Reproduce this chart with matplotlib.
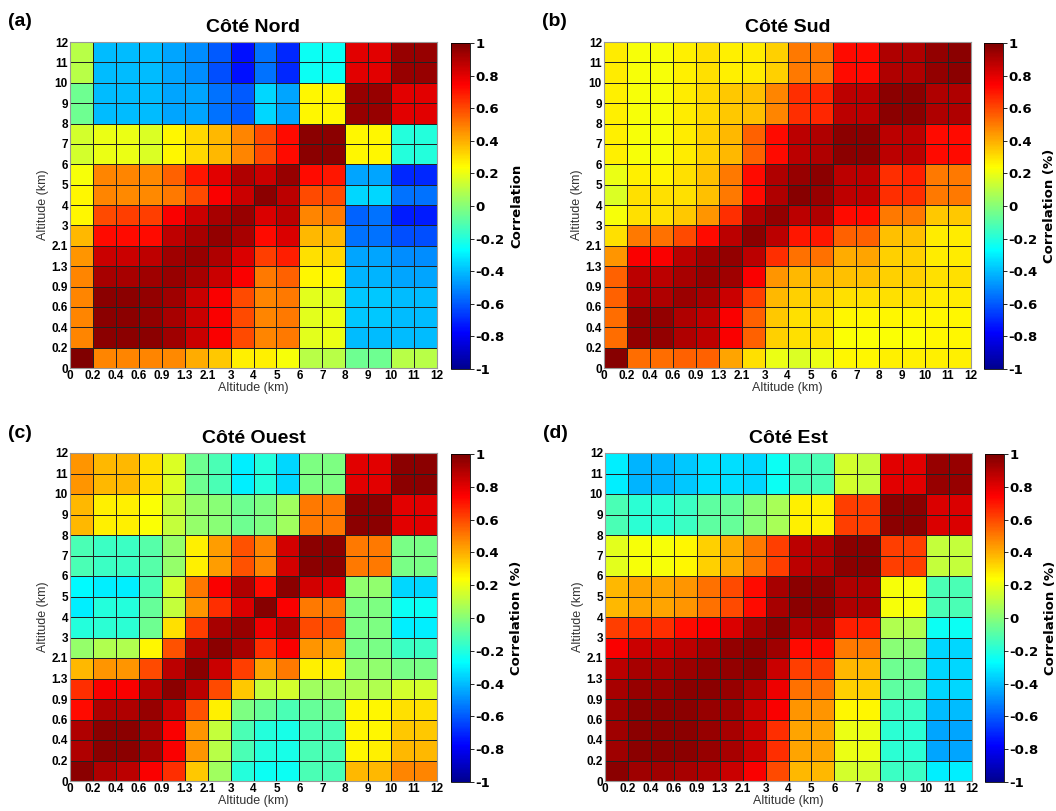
import numpy as np
import matplotlib
matplotlib.use("Agg")
import matplotlib.pyplot as plt
from matplotlib.colors import LinearSegmentedColormap

# altitude bin edges (km), 16 cells
alt_labels = ["0", "0.2", "0.4", "0.6", "0.9", "1.3", "2.1", "3", "4", "5",
              "6", "7", "8", "9", "10", "11", "12"]

# correlation matrices, rows listed from top (11-12 km) down to bottom (0-0.2 km)
nord = [
    [0.10, -0.40, -0.40, -0.40, -0.45, -0.50, -0.60, -0.75, -0.55, -0.70, -0.25, -0.25, 0.80, 0.80, 0.95, 0.95],
    [0.10, -0.40, -0.40, -0.40, -0.45, -0.50, -0.62, -0.75, -0.55, -0.70, -0.25, -0.25, 0.80, 0.80, 0.95, 0.95],
    [-0.05, -0.40, -0.40, -0.40, -0.45, -0.45, -0.55, -0.60, -0.35, -0.45, 0.25, 0.25, 0.95, 0.95, 0.80, 0.80],
    [-0.05, -0.40, -0.40, -0.40, -0.45, -0.45, -0.55, -0.60, -0.35, -0.45, 0.25, 0.25, 0.95, 0.95, 0.80, 0.80],
    [0.15, 0.20, 0.20, 0.17, 0.25, 0.32, 0.38, 0.48, 0.60, 0.72, 0.97, 0.97, 0.25, 0.25, -0.20, -0.20],
    [0.15, 0.20, 0.20, 0.17, 0.25, 0.32, 0.38, 0.48, 0.60, 0.72, 0.97, 0.97, 0.25, 0.25, -0.20, -0.20],
    [0.22, 0.48, 0.48, 0.47, 0.55, 0.70, 0.80, 0.90, 0.85, 0.95, 0.72, 0.70, -0.45, -0.45, -0.70, -0.70],
    [0.25, 0.48, 0.47, 0.47, 0.50, 0.60, 0.75, 0.85, 0.97, 0.88, 0.60, 0.60, -0.35, -0.35, -0.55, -0.55],
    [0.25, 0.60, 0.62, 0.62, 0.75, 0.85, 0.92, 0.95, 0.82, 0.88, 0.48, 0.50, -0.58, -0.55, -0.72, -0.72],
    [0.38, 0.72, 0.72, 0.72, 0.87, 0.92, 0.96, 0.92, 0.72, 0.82, 0.38, 0.38, -0.55, -0.55, -0.62, -0.62],
    [0.45, 0.85, 0.85, 0.87, 0.93, 0.95, 0.90, 0.82, 0.62, 0.68, 0.30, 0.32, -0.45, -0.45, -0.50, -0.50],
    [0.48, 0.92, 0.92, 0.93, 0.95, 0.92, 0.85, 0.75, 0.50, 0.55, 0.25, 0.25, -0.42, -0.42, -0.45, -0.45],
    [0.48, 0.97, 0.97, 0.96, 0.93, 0.85, 0.75, 0.60, 0.48, 0.50, 0.18, 0.18, -0.38, -0.38, -0.40, -0.40],
    [0.48, 0.97, 0.97, 0.96, 0.92, 0.85, 0.75, 0.60, 0.48, 0.50, 0.18, 0.20, -0.38, -0.38, -0.40, -0.40],
    [0.48, 0.97, 0.97, 0.97, 0.93, 0.85, 0.75, 0.60, 0.48, 0.50, 0.18, 0.20, -0.40, -0.40, -0.40, -0.40],
    [1.00, 0.48, 0.48, 0.48, 0.47, 0.40, 0.35, 0.27, 0.27, 0.22, 0.10, 0.10, -0.05, -0.05, 0.10, 0.10],
]

sud = [
    [0.28, 0.22, 0.22, 0.27, 0.30, 0.27, 0.28, 0.33, 0.50, 0.50, 0.72, 0.72, 0.90, 0.90, 0.96, 0.97],
    [0.28, 0.22, 0.22, 0.27, 0.30, 0.27, 0.28, 0.33, 0.50, 0.50, 0.72, 0.72, 0.90, 0.90, 0.96, 0.97],
    [0.27, 0.22, 0.22, 0.28, 0.32, 0.35, 0.36, 0.48, 0.65, 0.67, 0.88, 0.88, 0.97, 0.97, 0.90, 0.90],
    [0.27, 0.22, 0.22, 0.28, 0.32, 0.35, 0.36, 0.48, 0.65, 0.67, 0.88, 0.88, 0.97, 0.97, 0.90, 0.90],
    [0.27, 0.22, 0.22, 0.28, 0.33, 0.38, 0.55, 0.72, 0.88, 0.90, 0.97, 0.97, 0.88, 0.88, 0.72, 0.72],
    [0.27, 0.22, 0.22, 0.28, 0.33, 0.38, 0.55, 0.72, 0.88, 0.90, 0.97, 0.97, 0.88, 0.88, 0.72, 0.72],
    [0.20, 0.27, 0.26, 0.30, 0.36, 0.50, 0.72, 0.90, 0.95, 0.97, 0.88, 0.88, 0.65, 0.68, 0.50, 0.50],
    [0.17, 0.30, 0.30, 0.30, 0.36, 0.50, 0.72, 0.90, 0.98, 0.95, 0.87, 0.87, 0.65, 0.65, 0.50, 0.50],
    [0.22, 0.30, 0.30, 0.35, 0.45, 0.65, 0.90, 0.96, 0.88, 0.90, 0.72, 0.72, 0.50, 0.50, 0.35, 0.35],
    [0.30, 0.50, 0.52, 0.60, 0.72, 0.88, 0.97, 0.88, 0.70, 0.70, 0.55, 0.55, 0.36, 0.36, 0.28, 0.28],
    [0.45, 0.75, 0.75, 0.88, 0.93, 0.96, 0.88, 0.65, 0.52, 0.52, 0.40, 0.42, 0.33, 0.33, 0.28, 0.28],
    [0.55, 0.88, 0.88, 0.92, 0.95, 0.93, 0.75, 0.45, 0.38, 0.38, 0.36, 0.36, 0.33, 0.33, 0.30, 0.30],
    [0.55, 0.90, 0.90, 0.94, 0.92, 0.85, 0.62, 0.38, 0.33, 0.33, 0.30, 0.30, 0.30, 0.30, 0.28, 0.28],
    [0.53, 0.96, 0.96, 0.90, 0.87, 0.75, 0.55, 0.35, 0.30, 0.30, 0.25, 0.25, 0.25, 0.25, 0.25, 0.25],
    [0.53, 0.96, 0.96, 0.90, 0.87, 0.75, 0.55, 0.33, 0.30, 0.30, 0.23, 0.23, 0.23, 0.23, 0.25, 0.25],
    [0.98, 0.53, 0.53, 0.55, 0.55, 0.42, 0.30, 0.20, 0.17, 0.20, 0.25, 0.25, 0.27, 0.27, 0.27, 0.27],
]

ouest = [
    [0.45, 0.38, 0.38, 0.30, 0.17, -0.05, -0.12, -0.30, -0.20, -0.35, -0.02, -0.02, 0.80, 0.80, 0.97, 0.97],
    [0.45, 0.38, 0.38, 0.30, 0.17, -0.05, -0.12, -0.30, -0.20, -0.35, -0.02, -0.02, 0.80, 0.80, 0.97, 0.97],
    [0.38, 0.27, 0.27, 0.23, 0.12, 0.03, 0.00, -0.05, -0.02, 0.05, 0.50, 0.50, 0.97, 0.97, 0.80, 0.80],
    [0.38, 0.27, 0.27, 0.23, 0.12, 0.03, 0.00, -0.05, -0.02, 0.05, 0.50, 0.50, 0.97, 0.97, 0.80, 0.80],
    [-0.12, -0.15, -0.15, -0.10, 0.03, 0.27, 0.43, 0.58, 0.48, 0.83, 0.97, 0.97, 0.50, 0.50, -0.03, -0.03],
    [-0.12, -0.15, -0.15, -0.10, 0.03, 0.27, 0.43, 0.58, 0.48, 0.83, 0.97, 0.97, 0.50, 0.50, -0.03, -0.03],
    [-0.28, -0.30, -0.30, -0.12, 0.15, 0.50, 0.75, 0.90, 0.72, 0.97, 0.83, 0.80, 0.02, 0.02, -0.35, -0.35],
    [-0.30, -0.20, -0.20, -0.07, 0.12, 0.45, 0.65, 0.82, 0.98, 0.75, 0.50, 0.50, -0.02, -0.02, -0.25, -0.25],
    [-0.20, -0.18, -0.18, -0.05, 0.30, 0.62, 0.92, 0.95, 0.78, 0.90, 0.60, 0.58, -0.02, -0.02, -0.30, -0.30],
    [0.03, 0.08, 0.08, 0.25, 0.58, 0.90, 0.97, 0.92, 0.65, 0.75, 0.45, 0.42, -0.03, -0.03, -0.15, -0.15],
    [0.38, 0.45, 0.45, 0.60, 0.88, 0.97, 0.85, 0.62, 0.42, 0.50, 0.27, 0.27, 0.02, 0.02, -0.03, -0.03],
    [0.65, 0.75, 0.75, 0.88, 0.97, 0.88, 0.60, 0.35, 0.12, 0.15, 0.05, 0.05, 0.08, 0.08, 0.15, 0.15],
    [0.72, 0.90, 0.90, 0.95, 0.85, 0.58, 0.27, -0.02, -0.07, -0.12, -0.07, -0.05, 0.25, 0.25, 0.30, 0.30],
    [0.90, 0.97, 0.97, 0.92, 0.75, 0.45, 0.12, -0.12, -0.20, -0.22, -0.12, -0.12, 0.25, 0.25, 0.35, 0.35],
    [0.90, 0.97, 0.97, 0.92, 0.75, 0.45, 0.10, -0.12, -0.20, -0.22, -0.12, -0.12, 0.25, 0.27, 0.38, 0.38],
    [0.97, 0.90, 0.88, 0.75, 0.65, 0.35, 0.05, -0.20, -0.25, -0.25, -0.12, -0.12, 0.38, 0.38, 0.48, 0.48],
]

est = [
    [-0.30, -0.42, -0.42, -0.38, -0.33, -0.33, -0.35, -0.25, -0.12, -0.12, 0.15, 0.12, 0.80, 0.80, 0.95, 0.95],
    [-0.30, -0.42, -0.42, -0.38, -0.33, -0.33, -0.35, -0.25, -0.12, -0.12, 0.15, 0.12, 0.80, 0.80, 0.95, 0.95],
    [-0.12, -0.18, -0.18, -0.15, -0.08, -0.07, 0.00, 0.07, 0.27, 0.27, 0.62, 0.62, 0.97, 0.97, 0.82, 0.82],
    [-0.12, -0.18, -0.18, -0.15, -0.08, -0.07, 0.00, 0.07, 0.27, 0.27, 0.62, 0.62, 0.97, 0.97, 0.82, 0.82],
    [0.18, 0.22, 0.22, 0.25, 0.33, 0.40, 0.50, 0.62, 0.88, 0.90, 0.97, 0.97, 0.62, 0.62, 0.12, 0.12],
    [0.18, 0.22, 0.22, 0.25, 0.33, 0.40, 0.50, 0.62, 0.88, 0.90, 0.97, 0.97, 0.62, 0.62, 0.12, 0.12],
    [0.38, 0.42, 0.42, 0.45, 0.52, 0.60, 0.72, 0.92, 0.97, 0.97, 0.90, 0.90, 0.22, 0.22, -0.12, -0.12],
    [0.38, 0.42, 0.42, 0.45, 0.52, 0.60, 0.72, 0.92, 0.97, 0.97, 0.90, 0.90, 0.22, 0.22, -0.12, -0.12],
    [0.62, 0.65, 0.65, 0.72, 0.75, 0.82, 0.92, 0.97, 0.90, 0.92, 0.68, 0.68, 0.08, 0.08, -0.25, -0.25],
    [0.75, 0.85, 0.85, 0.88, 0.92, 0.96, 0.97, 0.93, 0.72, 0.72, 0.50, 0.50, 0.00, 0.00, -0.35, -0.35],
    [0.88, 0.92, 0.92, 0.94, 0.96, 0.96, 0.97, 0.85, 0.62, 0.62, 0.38, 0.38, -0.05, -0.05, -0.35, -0.35],
    [0.92, 0.95, 0.95, 0.97, 0.97, 0.95, 0.90, 0.78, 0.52, 0.52, 0.33, 0.33, -0.08, -0.08, -0.35, -0.35],
    [0.93, 0.97, 0.97, 0.97, 0.95, 0.93, 0.85, 0.75, 0.45, 0.45, 0.25, 0.25, -0.15, -0.15, -0.40, -0.40],
    [0.93, 0.97, 0.97, 0.97, 0.95, 0.92, 0.85, 0.65, 0.42, 0.42, 0.20, 0.20, -0.18, -0.18, -0.45, -0.45],
    [0.93, 0.97, 0.97, 0.97, 0.95, 0.92, 0.85, 0.65, 0.42, 0.42, 0.20, 0.20, -0.18, -0.18, -0.45, -0.45],
    [0.97, 0.93, 0.93, 0.92, 0.90, 0.85, 0.75, 0.60, 0.38, 0.38, 0.15, 0.15, -0.15, -0.15, -0.30, -0.30],
]

panels = [
    ("(a)", "Côté Nord", nord, "Correlation"),
    ("(b)", "Côté Sud", sud, "Correlation (%)"),
    ("(c)", "Côté Ouest", ouest, "Correlation (%)"),
    ("(d)", "Côté Est", est, "Correlation (%)"),
]

# MATLAB-style jet
matlab_jet = LinearSegmentedColormap.from_list("matlab_jet", [
    (0.0, (0.0, 0.0, 0.56)),
    (0.11, (0.0, 0.0, 1.0)),
    (0.365, (0.0, 1.0, 1.0)),
    (0.62, (1.0, 1.0, 0.0)),
    (0.873, (1.0, 0.0, 0.0)),
    (1.0, (0.5, 0.0, 0.0)),
])

W, H = 1056, 811
fig = plt.figure(figsize=(W / 100, H / 100), dpi=100)

# pixel boxes: (ax_left, ax_top, ax_right, ax_bottom, cb_left, cb_right)
boxes = [
    (70, 42, 437, 368, 451, 470),
    (604, 42, 971, 368, 984, 1003),
    (70, 453, 437, 781, 451, 470),
    (605, 453, 972, 781, 985, 1004),
]

def frac(l, t, r, b):
    return [l / W, 1 - b / H, (r - l) / W, (b - t) / H]

edges = np.arange(17)
for (tag, title, mat, cblabel), (l, t, r, b, cl, cr) in zip(panels, boxes):
    ax = fig.add_axes(frac(l, t, r, b))
    data = np.flipud(np.array(mat))
    mesh = ax.pcolormesh(edges, edges, data, cmap=matlab_jet, vmin=-1, vmax=1,
                         edgecolors="#222222", linewidth=0.6)
    ax.set_xlim(0, 16)
    ax.set_ylim(0, 16)
    ax.set_xticks(edges)
    ax.set_yticks(edges)
    ax.set_xticklabels(alt_labels, fontsize=8.5, fontweight="bold", family="Liberation Sans")
    ax.set_yticklabels(alt_labels, fontsize=8.5, fontweight="bold", family="Liberation Sans")
    ax.tick_params(length=0, pad=1.5)
    for s in ax.spines.values():
        s.set_color("#999999")
        s.set_linewidth(0.8)
    ax.set_xlabel("Altitude (km)", fontsize=9, family="Liberation Sans", labelpad=0, color="#333333")
    ax.set_ylabel("Altitude (km)", fontsize=9, family="Liberation Sans", labelpad=2, color="#333333")
    ax.set_title(title, fontsize=14, fontweight="bold", family="Liberation Sans", pad=7)
    fig.text((l - 62) / W, 1 - (t - 20) / H, tag, fontsize=14, fontweight="bold",
             family="Liberation Sans", va="center", ha="left")

    cax = fig.add_axes(frac(cl, t + 1, cr, b + 1))
    cb = fig.colorbar(mesh, cax=cax, ticks=np.linspace(-1, 1, 11))
    cb.ax.set_yticklabels(["-1", "-0.8", "-0.6", "-0.4", "-0.2", "0", "0.2", "0.4", "0.6", "0.8", "1"],
                          fontsize=9.5, fontweight="bold")
    cb.ax.tick_params(length=3, width=0.6, pad=1)
    cb.outline.set_linewidth(0.6)
    cb.set_label(cblabel, fontsize=9.5, fontweight="bold", labelpad=4)

fig.savefig("out.png", dpi=100)
